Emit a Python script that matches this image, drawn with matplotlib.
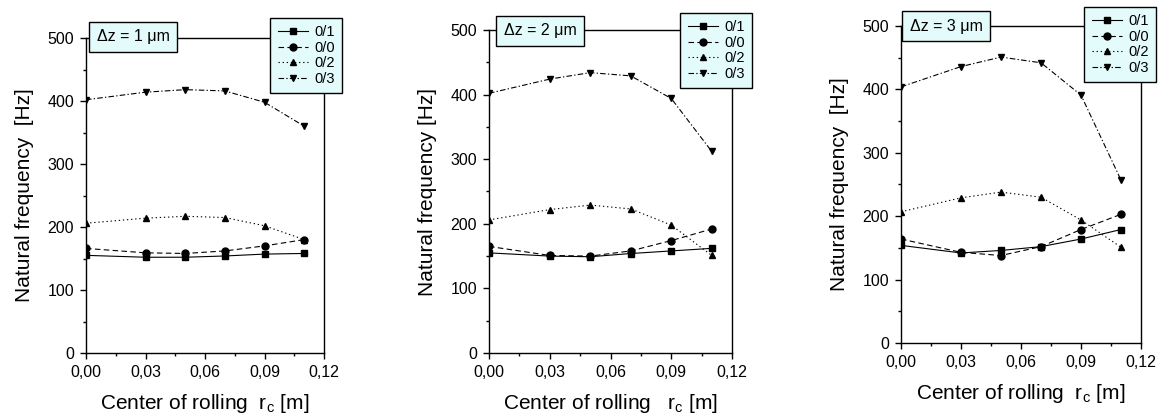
import numpy as np
import matplotlib
matplotlib.use("Agg")
import matplotlib.pyplot as plt
import matplotlib.ticker as ticker

plt.rcParams['font.family'] = ['Liberation Sans', 'DejaVu Sans']
plt.rcParams['mathtext.fontset'] = 'custom'
plt.rcParams['mathtext.rm'] = 'Liberation Sans'

# centre of rolling r_c [m]
rc = [0.00, 0.03, 0.05, 0.07, 0.09, 0.11]

# natural frequencies [Hz] per mode, one list per panel (dz = 1, 2, 3 um)
f01_dz1 = [155, 152, 152, 154, 157, 158]
f00_dz1 = [166, 159, 158, 162, 170, 180]
f02_dz1 = [206, 214, 217, 215, 202, 180]
f03_dz1 = [402, 414, 418, 416, 398, 360]

f01_dz2 = [155, 150, 149, 154, 158, 162]
f00_dz2 = [165, 151, 150, 158, 174, 192]
f02_dz2 = [206, 222, 229, 223, 198, 151]
f03_dz2 = [402, 424, 434, 429, 394, 312]

f01_dz3 = [154, 142, 146, 152, 164, 179]
f00_dz3 = [164, 143, 138, 152, 179, 203]
f02_dz3 = [207, 229, 238, 230, 194, 151]
f03_dz3 = [404, 436, 451, 442, 391, 257]

modes = ['0/1', '0/0', '0/2', '0/3']
panel_titles = ['Δz = 1 μm', 'Δz = 2 μm', 'Δz = 3 μm']
ylabels = ['Natural frequency  [Hz]', 'Natural frequency [Hz]', 'Natural frequency  [Hz]']
xlabels = [r'Center of rolling  r$_\mathregular{c}$ [m]',
           r'Center of rolling   r$_\mathregular{c}$ [m]',
           r'Center of rolling  r$_\mathregular{c}$ [m]']
panels = [[f01_dz1, f00_dz1, f02_dz1, f03_dz1],
          [f01_dz2, f00_dz2, f02_dz2, f03_dz2],
          [f01_dz3, f00_dz3, f02_dz3, f03_dz3]]

styles = [('-', 's'), ((0, (5, 3)), 'o'), ((0, (1.2, 2.5)), '^'), ((0, (5, 2, 1.2, 2)), 'v')]

W, H = 1164, 419
fig = plt.figure(figsize=(W / 100, H / 100), dpi=100)

# axes boxes in pixels: left, right, top, bottom
boxes = [(86, 324, 38, 353), (489, 732, 30, 353), (901, 1141, 26, 343)]
legend_corner = [(342, 18), (752, 13), (1156, 7)]
label_centre = [(133, 37), (540, 31), (946, 26)]

fmt_x = ticker.FuncFormatter(lambda v, p: ('%.2f' % v).replace('.', ','))

for i, (l, r, t, b) in enumerate(boxes):
    ax = fig.add_axes([l / W, (H - b) / H, (r - l) / W, (b - t) / H])
    for (ls, mk), vals, name in zip(styles, panels[i], modes):
        ax.plot(rc, vals, color='black', linestyle=ls, linewidth=0.8,
                marker=mk, markersize=5, label=name)
    ax.set_xlim(0, 0.12)
    ax.set_ylim(0, 500)
    ax.xaxis.set_major_locator(ticker.MultipleLocator(0.03))
    ax.xaxis.set_minor_locator(ticker.MultipleLocator(0.015))
    ax.yaxis.set_major_locator(ticker.MultipleLocator(100))
    ax.yaxis.set_minor_locator(ticker.MultipleLocator(50))
    ax.xaxis.set_major_formatter(fmt_x)
    ax.tick_params(which='both', direction='out', top=False, right=False,
                   labelsize=11.5, width=1, pad=4)
    ax.tick_params(which='major', length=4.5)
    ax.tick_params(which='minor', length=2.5)
    for s in ax.spines.values():
        s.set_linewidth(1)
    ax.set_ylabel(ylabels[i], fontsize=15, labelpad=10)
    ax.set_xlabel(xlabels[i], fontsize=15, labelpad=9)

    lx, ly = legend_corner[i]
    leg = ax.legend(loc='upper right', bbox_to_anchor=(lx / W, (H - ly) / H),
                    bbox_transform=fig.transFigure, borderaxespad=0,
                    fontsize=10.5, handlelength=2.1, handletextpad=0.4,
                    labelspacing=0.1, borderpad=0.5, fancybox=False,
                    framealpha=1, edgecolor='black', facecolor='#e4fbfb')
    leg.get_frame().set_linewidth(1)

    cx, cy = label_centre[i]
    fig.text(cx / W, (H - cy) / H, panel_titles[i], ha='center', va='center',
             fontsize=11.5,
             bbox=dict(boxstyle='square,pad=0.45', facecolor='#e4fbfb',
                       edgecolor='black', linewidth=1))

fig.savefig('out.png', dpi=100)
